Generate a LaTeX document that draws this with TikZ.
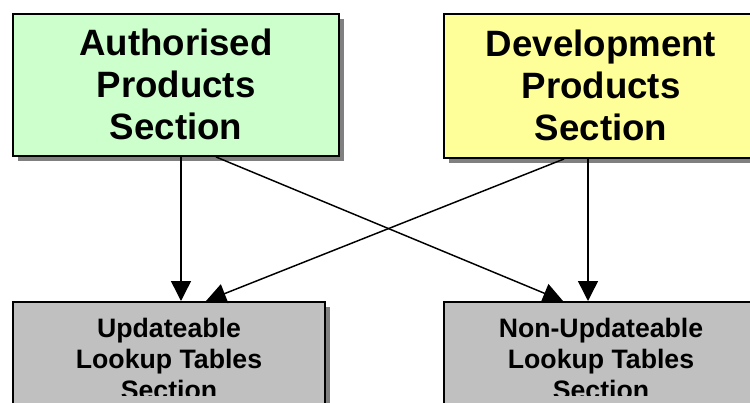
\documentclass[tikz,border=0pt]{standalone}
\usepackage{fontspec}
\setmainfont{Liberation Sans}
\usetikzlibrary{arrows.meta,shadows}
\definecolor{authgreen}{HTML}{CCFFCC}
\definecolor{devyellow}{HTML}{FFFF99}
\definecolor{tablegray}{HTML}{C0C0C0}
\definecolor{shadowgray}{HTML}{808080}
\tikzset{
  boxed/.style={draw=black, line width=1.5pt, inner sep=0pt, anchor=north west,
    general shadow={fill=shadowgray, shadow xshift=3.75pt, shadow yshift=-3.75pt}},
  section/.style={boxed, align=center, font=\bfseries\fontsize{27.5}{31.5}\selectfont},
  tables/.style={boxed, fill=tablegray},
  tablelabel/.style={inner sep=0pt, align=center, font=\bfseries\fontsize{20}{23}\selectfont},
  link/.style={line width=1.1pt, -{Triangle[length=15pt,width=15pt]}}
}
\begin{document}
\begin{tikzpicture}[x=0.75pt,y=-0.75pt]
  \useasboundingbox (0,0) rectangle (750,403);
  \clip (0,0) rectangle (750,403);
  % product sections
  \node[section, fill=authgreen, minimum width=244.5pt, minimum height=106.7pt] (auth) at (12,12.7)
    {Authorised\\Products\\Section};
  \node[section, fill=devyellow, minimum width=235.5pt, minimum height=108.2pt] (dev) at (443,12.7)
    {Development\\Products\\Section};
  % lookup table sections
  \node[tables, minimum width=234pt, minimum height=85.5pt] (upd) at (12,301) {};
  \node[tables, minimum width=235.5pt, minimum height=85.5pt] (nonupd) at (443,301) {};
  % their labels overflow the frame and are cut off
  \begin{scope}
    \clip (0,0) rectangle (750,395);
    \node[tablelabel] (updlabel) at (upd.center) {Updateable\\Lookup Tables\\Section};
    \node[tablelabel] (nonupdlabel) at (nonupd.center) {Non-Updateable\\Lookup Tables\\Section};
  \end{scope}
  % connections
  \draw[link] ([xshift=3.75pt]auth.south) -- ([xshift=3.75pt]auth.south |- upd.north);
  \draw[link] ([xshift=30pt]auth.south) -- ([xshift=-28.5pt]nonupd.north);
  \draw[link] ([xshift=-9.75pt]dev.south) -- ([xshift=-9.75pt]dev.south |- nonupd.north);
  \draw[link] ([xshift=-27.75pt]dev.south) -- ([xshift=27.75pt]upd.north);
\end{tikzpicture}
\end{document}
